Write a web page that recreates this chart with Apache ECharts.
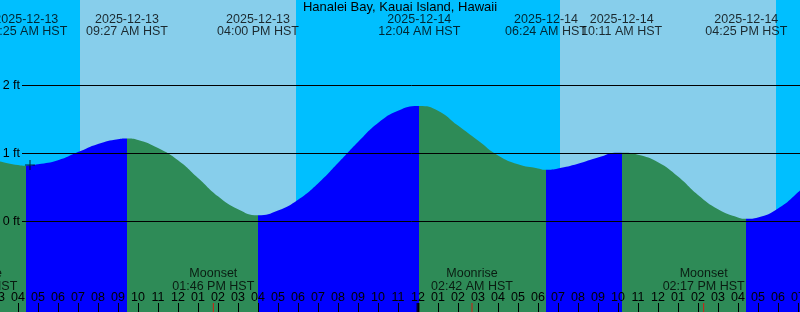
<!DOCTYPE html>
<html><head><meta charset="utf-8">
<script src="https://cdn.jsdelivr.net/npm/echarts@6/dist/echarts.min.js"></script>
<style>html,body{margin:0;padding:0;background:#00BFFF;}#c{width:800px;height:312px;}</style>
</head><body><div id="c"></div>
<script>
// ---- data ----
const chartTitle = 'Hanalei Bay, Kauai Island, Hawaii';
// hours relative to 2025-12-14 00:00 HST
const hourLabels = ['03','04','05','06','07','08','09','10','11','12','01','02','03','04','05','06','07','08','09','10','11','12',
  '01','02','03','04','05','06','07','08','09','10','11','12','01','02','03','04','05','06','07','08'];
const footValues = [0, 1, 2];
const footLabels = ['0 ft', '1 ft', '2 ft'];
const tideHours = [-21,-20,-19.583,-19,-18,-17,-16,-15,-14.55,-14,-13,-12,-11,-10,-9,-8,-7,-6,-5,-4,-3,-2,-1,0,0.067,
  1,2,3,4,5,6,6.4,7,8,9,10,10.183,11,12,13,14,15,16,16.417,17,18,19,20];
const tideFeet = [0.89,0.83,0.82,0.84,0.90,1.02,1.14,1.21,1.22,1.20,1.08,0.90,0.64,0.37,0.18,0.09,0.16,0.32,0.56,0.86,1.17,1.45,1.63,1.70,1.70,
  1.63,1.41,1.19,0.97,0.84,0.78,0.76,0.78,0.85,0.94,1.01,1.01,0.98,0.87,0.66,0.39,0.18,0.06,0.04,0.06,0.19,0.43,0.72];
const eventHours = [-19.583, -14.55, -8, 0.067, 6.4, 10.183, 16.417];
const eventDates = ['2025-12-13','2025-12-13','2025-12-13','2025-12-14','2025-12-14','2025-12-14','2025-12-14'];
const eventTimes = ['04:25 AM HST','09:27 AM HST','04:00 PM HST','12:04 AM HST','06:24 AM HST','10:11 AM HST','04:25 PM HST'];
const eventKinds = ['low','high','low','high','low','high','low'];
const moonHours = [-22.083, -10.233, 2.7, 14.283];
const moonNames = ['Moonrise','Moonset','Moonrise','Moonset'];
const moonTimes = ['01:55 AM HST','01:46 PM HST','02:42 AM HST','02:17 PM HST'];
const sunriseHours = [-16.9, 7.1];
const sunsetHours = [-6.1, 17.9];
const midnightHours = [0];
const nowHour = -19.4;
const nowFeet = 0.83;

// ---- styles / layout ----
const FONT = 'Liberation Sans, Arial, sans-serif';
const X_MIN = -21, X_MAX = 20, Y_MIN = -1.331, Y_MAX = 3.257;
const GRIDLINE_START = -19.8;
const DAY = '#87CEEB', RISE = '#0000FF', FALL = '#2E8B57';

const pieces = [];
pieces.push({ lt: eventHours[0], color: eventKinds[0] === 'low' ? FALL : RISE });
for (let i = 0; i < eventHours.length; i++) {
  const p = { gte: eventHours[i], color: eventKinds[i] === 'low' ? RISE : FALL };
  if (i + 1 < eventHours.length) p.lt = eventHours[i + 1];
  pieces.push(p);
}

const chart = echarts.init(document.getElementById('c'), null, { renderer: 'canvas' });
chart.setOption({
  animation: false,
  backgroundColor: '#00BFFF',
  title: { text: chartTitle, left: 'center', top: 1, padding: 0,
    textStyle: { fontSize: 13, fontWeight: 'normal', color: '#000', fontFamily: FONT } },
  grid: { left: -2, right: -18, top: 0, bottom: 0, containLabel: false, outerBoundsMode: 'none' },
  xAxis: { type: 'value', min: X_MIN, max: X_MAX, interval: 1, z: 10,
    axisLine: { show: false, onZero: false },
    axisTick: { show: true, inside: true, length: 9, lineStyle: { color: '#000', width: 1 } },
    axisLabel: { show: true, inside: true, margin: 8, color: '#000', fontSize: 12.5, fontFamily: FONT,
      showMinLabel: true, showMaxLabel: true, hideOverlap: false,
      formatter: v => hourLabels[Math.round(v - X_MIN)] },
    splitLine: { show: false } },
  yAxis: { type: 'value', min: Y_MIN, max: Y_MAX, show: false, splitLine: { show: false } },
  visualMap: { type: 'piecewise', show: false, dimension: 0, seriesIndex: 0, pieces: pieces },
  series: [
    { type: 'line', z: 2, data: tideHours.map((h, i) => [h, tideFeet[i]]),
      smooth: 0.5, showSymbol: false, silent: true,
      lineStyle: { width: 0, opacity: 0 },
      areaStyle: { opacity: 1, origin: 'start' },
      markArea: { silent: true, itemStyle: { color: DAY, opacity: 1 },
        data: sunriseHours.map((s, i) => [{ xAxis: s }, { xAxis: sunsetHours[i] }]) },
      markLine: { silent: true, symbol: ['none', 'none'], animation: false,
        lineStyle: { color: '#000', width: 1, type: 'solid', opacity: 1 },
        label: { show: true, position: 'start', distance: 2, color: '#000', fontSize: 12.5, fontFamily: FONT },
        data: footValues.map((v, i) => [
          { coord: [GRIDLINE_START, v], label: { formatter: footLabels[i] } },
          { coord: [X_MAX, v] }]) } },
    { type: 'scatter', z: 6, clip: false, silent: true, symbolSize: 0,
      data: eventHours.map(h => [h, Y_MAX]),
      label: { show: true, position: 'inside', offset: [0, 25.5], color: '#000', fontSize: 12.5, fontFamily: FONT,
        lineHeight: 12.5, align: 'center', verticalAlign: 'middle',
        formatter: p => eventDates[p.dataIndex] + '\n' + eventTimes[p.dataIndex] } },
    { type: 'scatter', z: 6, clip: false, silent: true, symbolSize: 0,
      data: moonHours.map(h => [h, Y_MIN]),
      label: { show: true, position: 'inside', offset: [0, -32], color: '#000', fontSize: 12.5, fontFamily: FONT,
        lineHeight: 12.5, align: 'center', verticalAlign: 'middle',
        formatter: p => moonNames[p.dataIndex] + '\n' + moonTimes[p.dataIndex] } },
    { type: 'scatter', z: 12, clip: false, silent: true, symbol: 'rect', symbolSize: [3, 18],
      itemStyle: { color: '#000' }, data: midnightHours.map(h => [h, Y_MIN]) },
    { type: 'scatter', z: 12, clip: false, silent: true, symbol: 'rect', symbolSize: [1, 18],
      itemStyle: { color: '#FF0000' }, data: moonHours.map(h => [h, Y_MIN]) },
    { type: 'scatter', z: 12, clip: false, silent: true,
      symbol: 'path://M4.5,0h1v10h-1z M0,4.5h10v1h-10z', symbolSize: [10, 10], symbolKeepAspect: true,
      itemStyle: { color: '#000' }, data: [[nowHour, nowFeet]] }
  ]
});
</script></body></html>
